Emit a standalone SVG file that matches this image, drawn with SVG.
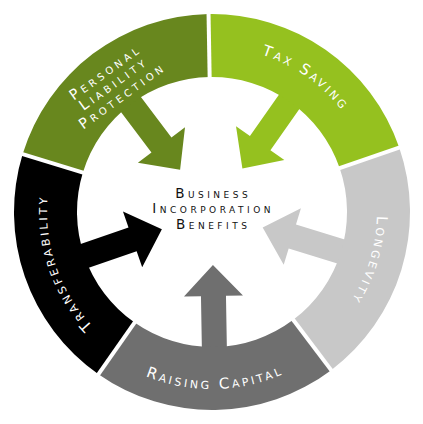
<svg xmlns="http://www.w3.org/2000/svg" xmlns:xlink="http://www.w3.org/1999/xlink" width="423" height="424" viewBox="0 0 423 424">
<style>
.lbl{font-family:"DejaVu Sans",sans-serif;font-size:15px;font-variant:small-caps;fill:#fff;letter-spacing:2.8px}
.plp{font-family:"DejaVu Sans",sans-serif;font-size:14.5px;font-variant:small-caps;fill:#fff;letter-spacing:3.6px;text-anchor:middle}
.ctr{font-family:"DejaVu Sans",sans-serif;font-size:13.5px;font-variant:small-caps;fill:#111;letter-spacing:3.5px;text-anchor:middle}
.gap{stroke:#fff;stroke-width:4;fill:none}
</style>
<defs>
<path id="arr" d="M0,53 L29.5,84 L12.5,84 L12.5,140 L-12.5,140 L-12.5,84 L-29.5,84 Z"/>
<path id="pTax" d="M142.27,62.46 A165,165 0 0 1 376.37,226.38"/>
<path id="pLon" d="M332.67,99.47 A165,165 0 0 1 249.12,372.77"/>
<path id="pTra" d="M180.52,373.97 A165,165 0 0 1 87.47,103.75"/>
<path id="pRai" d="M60.28,303.16 A177,177 0 0 0 366.81,297.81"/>
</defs>
<rect width="423" height="424" fill="#fff"/>
<g id="connectors">
<use xlink:href="#arr" href="#arr" fill="#68871e" transform="translate(212,212) rotate(143)"/>
<use xlink:href="#arr" href="#arr" fill="#95c11f" transform="translate(212,212) rotate(-145)"/>
<use xlink:href="#arr" href="#arr" fill="#c8c8c8" transform="translate(212,212) rotate(-73)"/>
<use xlink:href="#arr" href="#arr" fill="#6f6f6f" transform="translate(212,212) rotate(-1)"/>
<use xlink:href="#arr" href="#arr" fill="#000" transform="translate(212,212) rotate(71)"/>
</g>
<g id="node-personal-liability">
<path d="M22.65,154.11 A198,198 0 0 1 208.54,14.03 L209.64,77.02 A135,135 0 0 0 82.9,172.53 Z" fill="#68871e"/>
<g transform="translate(112.6,85.1) rotate(-36)">
<text class="plp" x="1.8" y="-10.2">Personal</text>
<text class="plp" x="1.8" y="3.8">Liability</text>
<text class="plp" x="1.8" y="18.8">Protection</text>
</g>
</g>
<g id="node-tax-saving">
<path d="M208.54,14.03 A198,198 0 0 1 399.21,147.54 L339.65,168.05 A135,135 0 0 0 209.64,77.02 Z" fill="#95c11f"/>
<text class="lbl"><textPath href="#pTax" xlink:href="#pTax" startOffset="50%" text-anchor="middle">Tax Saving</textPath></text>
</g>
<g id="node-longevity">
<path d="M399.21,147.54 A198,198 0 0 1 331.16,370.13 L293.25,319.82 A135,135 0 0 0 339.65,168.05 Z" fill="#c8c8c8"/>
<text class="lbl"><textPath href="#pLon" xlink:href="#pLon" startOffset="50%" text-anchor="middle">Longevity</textPath></text>
</g>
<g id="node-raising-capital">
<path d="M331.16,370.13 A198,198 0 0 1 98.43,374.19 L134.57,322.59 A135,135 0 0 0 293.25,319.82 Z" fill="#6f6f6f"/>
<text class="lbl"><textPath href="#pRai" xlink:href="#pRai" startOffset="50%" text-anchor="middle">Raising Capital</textPath></text>
</g>
<g id="node-transferability">
<path d="M98.43,374.19 A198,198 0 0 1 22.65,154.11 L82.9,172.53 A135,135 0 0 0 134.57,322.59 Z" fill="#000"/>
<text class="lbl"><textPath href="#pTra" xlink:href="#pTra" startOffset="50%" text-anchor="middle">Transferability</textPath></text>
</g>
<g id="gaps">
<line class="gap" x1="89.59" y1="174.58" x2="16.91" y2="152.36"/>
<line class="gap" x1="209.77" y1="84.02" x2="208.44" y2="8.03"/>
<line class="gap" x1="333.03" y1="170.33" x2="404.89" y2="145.58"/>
<line class="gap" x1="289.03" y1="314.22" x2="334.77" y2="374.92"/>
<line class="gap" x1="138.58" y1="316.85" x2="94.99" y2="379.11"/>
</g>
<g id="node-center">
<text class="ctr" x="213.2" y="197.5">Business</text>
<text class="ctr" x="213.2" y="213">Incorporation</text>
<text class="ctr" x="213.2" y="228.5">Benefits</text>
</g>
</svg>
